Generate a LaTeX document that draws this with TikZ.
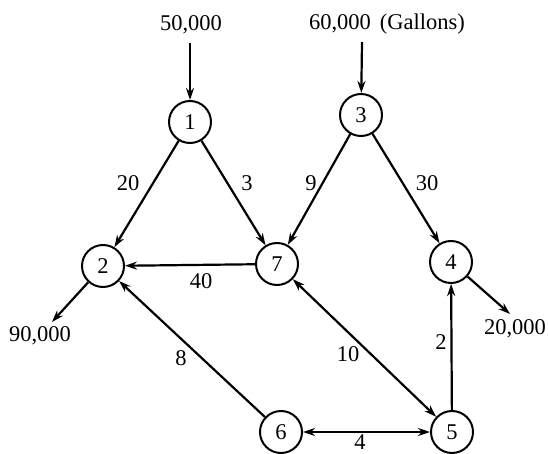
\documentclass[tikz,border=0pt]{standalone}
\usepackage{fontspec}
\newfontfamily\lserif{Liberation Serif}
\usetikzlibrary{arrows.meta}
\begin{document}
\begin{tikzpicture}[x=1pt,y=-1pt,
  every node/.style={font=\lserif\fontsize{22.5}{26}\selectfont},
  vert/.style={draw,circle,line width=2pt,minimum size=42pt,inner sep=0pt},
  flow/.style={line width=2.2pt,-{Stealth[length=12pt,width=8pt]}},
  biflow/.style={line width=2.2pt,{Stealth[length=12pt,width=8pt]}-{Stealth[length=12pt,width=8pt]}},
  lbl/.style={inner sep=1pt}]
\useasboundingbox (0,0) rectangle (548,454);
\node[vert] (n1) at (190,122) {1};
\node[vert] (n3) at (361,115) {3};
\node[vert] (n2) at (103,266) {2};
\node[vert] (n7) at (277,264) {7};
\node[vert] (n4) at (451,262) {4};
\node[vert] (n6) at (281,432) {6};
\node[vert] (n5) at (452,432) {5};
\node (s1) at (191,25) {50,000};
\node (s3) at (387,24) {60,000\hspace{0.4em}(Gallons)};
\node (d2) at (40,336) {90,000};
\node (d4) at (515,329) {20,000};
\coordinate (i1) at (190,43);
\coordinate (i3) at (362,42);
\coordinate (o2) at (52,322);
\coordinate (o4) at (510,314);
\draw[flow] (i1) -- (n1);
\draw[flow] (i3) -- (n3);
\draw[flow] (n2) -- (o2);
\draw[flow] (n4) -- (o4);
\draw[flow] (n1) -- (n2);
\draw[flow] (n1) -- (n7);
\draw[flow] (n3) -- (n7);
\draw[flow] (n3) -- (n4);
\draw[flow] (n7) -- (n2);
\draw[flow] (n6) -- (n2);
\draw[biflow] (n7) -- (n5);
\draw[biflow] (n6) -- (n5);
\draw[flow] (n5) -- (n4);
\node[lbl] (l12) at (128,183) {20};
\node[lbl] (l17) at (247,183) {3};
\node[lbl] (l37) at (311,183) {9};
\node[lbl] (l34) at (427,183) {30};
\node[lbl] (l72) at (201,281) {40};
\node[lbl] (l62) at (181,358) {8};
\node[lbl] (l75) at (348,354) {10};
\node[lbl] (l54) at (441,342) {2};
\node[lbl] (l65) at (360,442) {4};
\end{tikzpicture}
\end{document}
